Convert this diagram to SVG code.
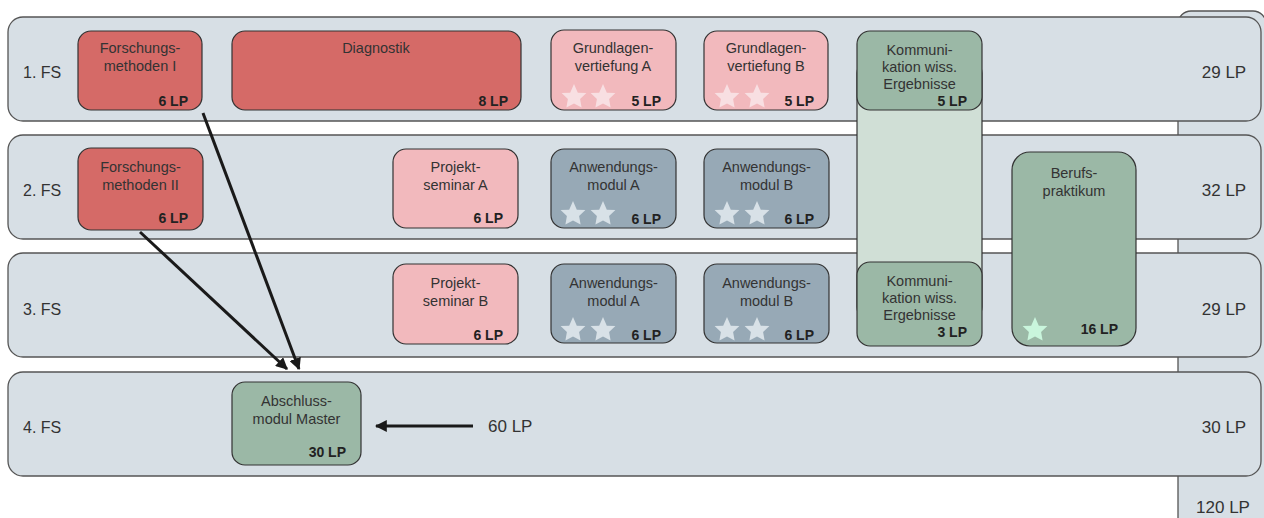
<svg xmlns="http://www.w3.org/2000/svg" width="1264" height="518" viewBox="0 0 1264 518">
<defs>
<style>
.band{fill:#d7dfe5;stroke:#555;stroke-width:1.3}
.n{stroke:#333;stroke-width:1.2}
.red{fill:#d56a67}.pink{fill:#f2b9bd}.grn{fill:#9bb8a6}.blu{fill:#97a9b6}
text{font-family:"Liberation Sans",Arial,sans-serif;fill:#333}
.lb{font-size:14.5px;text-anchor:middle}
.lp{font-size:14px;font-weight:bold;text-anchor:end;fill:#222}
.fs{font-size:16px}
.tot{font-size:17px;text-anchor:middle}
.conn{stroke:#1a1a1a;stroke-width:3;fill:none;marker-end:url(#ah)}
.sp{fill:#f8dfe2}.sb{fill:#d8e1e7}.sg{fill:#c9f5dc}
</style>
<marker id="ah" viewBox="0 0 10 10" refX="9" refY="5" markerWidth="4" markerHeight="4" orient="auto" markerUnits="strokeWidth">
<path d="M0,0 L10,5 L0,10 z" fill="#1a1a1a"/>
</marker>
<path id="star" d="M0,-13 L3.8,-4.2 L12.4,-4 L6.1,2.1 L7.6,10.5 L0,6.4 L-7.6,10.5 L-6.1,2.1 L-12.4,-4 L-3.8,-4.2 z"/>
</defs>
<rect width="1264" height="518" fill="#fff"/>

<g id="total-column">
<rect x="1178" y="11" width="88" height="530" rx="13" class="band"/>
<text x="1223" y="513" class="tot">120 LP</text>
</g>

<g id="row1">
<rect x="8" y="17" width="1253" height="104" rx="15" class="band"/>
<text x="23" y="78" class="fs">1. FS</text>
<text x="1224" y="78" class="tot">29 LP</text>
</g>
<g id="row2">
<rect x="8" y="135" width="1253" height="104" rx="15" class="band"/>
<text x="23" y="196" class="fs">2. FS</text>
<text x="1224" y="196" class="tot">32 LP</text>
</g>
<g id="row3">
<rect x="8" y="253" width="1253" height="104" rx="15" class="band"/>
<text x="23" y="315" class="fs">3. FS</text>
<text x="1224" y="315" class="tot">29 LP</text>
</g>
<g id="row4">
<rect x="8" y="372" width="1253" height="104" rx="15" class="band"/>
<text x="23" y="433" class="fs">4. FS</text>
<text x="1224" y="433" class="tot">30 LP</text>
</g>

<g id="komm-column">
<rect x="857" y="60" width="125" height="260" rx="13" fill="#d0dfd6" class="n"/>
</g>

<g id="forschungsmethoden-1">
<rect x="78" y="31" width="124" height="79" rx="13" class="n red"/>
<text x="140" y="53" class="lb">Forschungs-</text>
<text x="140" y="71" class="lb">methoden I</text>
<text x="188" y="106" class="lp">6 LP</text>
</g>
<g id="diagnostik">
<rect x="232" y="31" width="289" height="79" rx="13" class="n red"/>
<text x="376" y="53" class="lb">Diagnostik</text>
<text x="508" y="106" class="lp">8 LP</text>
</g>
<g id="grundlagen-a">
<rect x="551" y="30" width="125" height="80" rx="13" class="n pink"/>
<text x="613" y="53" class="lb">Grundlagen-</text>
<text x="613" y="71" class="lb">vertiefung A</text>
<use href="#star" x="574" y="97" class="sp"/>
<use href="#star" x="603" y="97" class="sp"/>
<text x="661" y="106" class="lp">5 LP</text>
</g>
<g id="grundlagen-b">
<rect x="704" y="31" width="124" height="79" rx="13" class="n pink"/>
<text x="766" y="53" class="lb">Grundlagen-</text>
<text x="766" y="71" class="lb">vertiefung B</text>
<use href="#star" x="727" y="97" class="sp"/>
<use href="#star" x="757" y="97" class="sp"/>
<text x="814" y="106" class="lp">5 LP</text>
</g>
<g id="kommunikation-1">
<rect x="857" y="31" width="125" height="79" rx="13" class="n grn"/>
<text x="919.5" y="55" class="lb">Kommuni-</text>
<text x="919.5" y="72" class="lb">kation wiss.</text>
<text x="919.5" y="89" class="lb">Ergebnisse</text>
<text x="967" y="106" class="lp">5 LP</text>
</g>

<g id="forschungsmethoden-2">
<rect x="78" y="148" width="125" height="82" rx="13" class="n red"/>
<text x="140.5" y="172" class="lb">Forschungs-</text>
<text x="140.5" y="190" class="lb">methoden II</text>
<text x="188" y="223" class="lp">6 LP</text>
</g>
<g id="projektseminar-a">
<rect x="393" y="149" width="125" height="79" rx="13" class="n pink"/>
<text x="455.5" y="172" class="lb">Projekt-</text>
<text x="455.5" y="190" class="lb">seminar A</text>
<text x="503" y="223" class="lp">6 LP</text>
</g>
<g id="anwendung-a-2">
<rect x="551" y="149" width="125" height="79" rx="13" class="n blu"/>
<text x="613.5" y="172" class="lb">Anwendungs-</text>
<text x="613.5" y="190" class="lb">modul A</text>
<use href="#star" x="573" y="214" class="sb"/>
<use href="#star" x="603" y="214" class="sb"/>
<text x="661" y="224" class="lp">6 LP</text>
</g>
<g id="anwendung-b-2">
<rect x="704" y="149" width="125" height="79" rx="13" class="n blu"/>
<text x="766.5" y="172" class="lb">Anwendungs-</text>
<text x="766.5" y="190" class="lb">modul B</text>
<use href="#star" x="727" y="214" class="sb"/>
<use href="#star" x="757" y="214" class="sb"/>
<text x="814" y="224" class="lp">6 LP</text>
</g>
<g id="berufspraktikum">
<rect x="1012" y="152" width="124" height="194" rx="18" class="n grn"/>
<text x="1074" y="178" class="lb">Berufs-</text>
<text x="1074" y="196" class="lb">praktikum</text>
<use href="#star" x="1035" y="330" class="sg"/>
<text x="1118" y="334" class="lp">16 LP</text>
</g>

<g id="projektseminar-b">
<rect x="393" y="264" width="125" height="80" rx="13" class="n pink"/>
<text x="455.5" y="288" class="lb">Projekt-</text>
<text x="455.5" y="306" class="lb">seminar B</text>
<text x="503" y="340" class="lp">6 LP</text>
</g>
<g id="anwendung-a-3">
<rect x="551" y="264" width="125" height="79" rx="13" class="n blu"/>
<text x="613.5" y="288" class="lb">Anwendungs-</text>
<text x="613.5" y="306" class="lb">modul A</text>
<use href="#star" x="573" y="330" class="sb"/>
<use href="#star" x="603" y="330" class="sb"/>
<text x="661" y="340" class="lp">6 LP</text>
</g>
<g id="anwendung-b-3">
<rect x="704" y="264" width="125" height="79" rx="13" class="n blu"/>
<text x="766.5" y="288" class="lb">Anwendungs-</text>
<text x="766.5" y="306" class="lb">modul B</text>
<use href="#star" x="727" y="330" class="sb"/>
<use href="#star" x="757" y="330" class="sb"/>
<text x="814" y="340" class="lp">6 LP</text>
</g>
<g id="kommunikation-2">
<rect x="857" y="262" width="125" height="84" rx="13" class="n grn"/>
<text x="919.5" y="286" class="lb">Kommuni-</text>
<text x="919.5" y="303" class="lb">kation wiss.</text>
<text x="919.5" y="320" class="lb">Ergebnisse</text>
<text x="967" y="337" class="lp">3 LP</text>
</g>

<g id="abschlussmodul">
<rect x="232" y="382" width="129" height="83" rx="13" class="n grn"/>
<text x="296.5" y="406" class="lb">Abschluss-</text>
<text x="296.5" y="424" class="lb">modul Master</text>
<text x="346" y="457" class="lp">30 LP</text>
</g>
<g id="sum60">
<text x="488" y="432" style="font-size:17px">60 LP</text>
</g>

<g id="connectors">
<line x1="203" y1="113" x2="299" y2="369" class="conn"/>
<line x1="140" y1="232" x2="287" y2="369" class="conn"/>
<line x1="473" y1="426" x2="376" y2="426" class="conn"/>
</g>
</svg>
